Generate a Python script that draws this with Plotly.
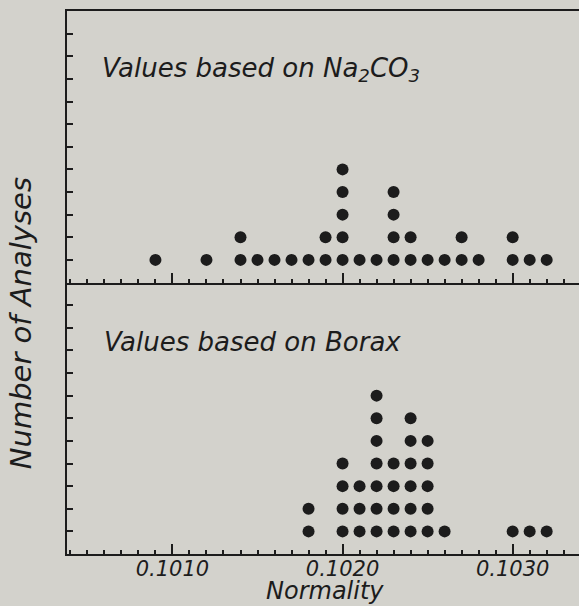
import plotly.graph_objects as go
from plotly.subplots import make_subplots

# ---- data ----
na2co3_normality = [0.1009, 0.1012, 0.1014, 0.1015, 0.1016, 0.1017, 0.1018, 0.1019,
                    0.1020, 0.1021, 0.1022, 0.1023, 0.1024, 0.1025, 0.1026, 0.1027,
                    0.1028, 0.1030, 0.1031, 0.1032]
na2co3_counts = [1, 1, 2, 1, 1, 1, 1, 2, 5, 1, 1, 4, 2, 1, 1, 2, 1, 2, 1, 1]

borax_normality = [0.1018, 0.1020, 0.1021, 0.1022, 0.1023, 0.1024, 0.1025, 0.1026,
                   0.1030, 0.1031, 0.1032]
borax_counts = [2, 4, 3, 7, 4, 6, 5, 1, 1, 1, 1]

xtick_vals = [0.1010, 0.1020, 0.1030]
xtick_text = ["0.1010", "0.1020", "0.1030"]

panel_titles = ["Values based on Na<sub>2</sub>CO<sub>3</sub>", "Values based on Borax"]
x_title = "Normality"
y_title = "Number of Analyses"

# ---- style ----
BG = "#d3d2cc"
INK = "#1c1c1c"
FONT = "DejaVu Sans"


def stack(xs, counts):
    px, py = [], []
    for x, c in zip(xs, counts):
        for k in range(1, c + 1):
            px.append(x)
            py.append(k)
    return px, py


fig = make_subplots(rows=2, cols=1, shared_xaxes=True, vertical_spacing=0)

for row, (xs, cs) in enumerate([(na2co3_normality, na2co3_counts),
                                 (borax_normality, borax_counts)], start=1):
    px, py = stack(xs, cs)
    fig.add_trace(go.Scatter(x=px, y=py, mode="markers",
                             marker=dict(size=12, color=INK, line=dict(width=0)),
                             showlegend=False, hoverinfo="skip"), row=row, col=1)

xcommon = dict(range=[0.10038, 0.10339], showgrid=False, zeroline=False,
               showline=True, linecolor=INK, linewidth=2,
               ticks="inside", ticklen=10, tickwidth=1.5, tickcolor=INK,
               tickvals=xtick_vals, ticktext=["<i>%s</i>" % t for t in xtick_text],
               ticklabelstandoff=-5,
               minor=dict(ticks="inside", ticklen=4, tickwidth=1.5, tickcolor=INK,
                          dtick=0.0001, tick0=0.1000, showgrid=False),
               tickfont=dict(family=FONT, size=21, color=INK))
fig.update_xaxes(**xcommon)
fig.update_xaxes(showticklabels=False, mirror=True, row=1, col=1)
fig.update_xaxes(showticklabels=True, row=2, col=1)

fig.update_yaxes(range=[0, 12], showgrid=False, zeroline=False,
                 showline=True, linecolor=INK, linewidth=2,
                 ticks="inside", ticklen=6, tickwidth=1.5, tickcolor=INK,
                 tickvals=list(range(1, 12)), showticklabels=False)

annos = [
    dict(text="<i>%s</i>" % panel_titles[0], x=0.064, y=0.893, xanchor="left", yanchor="middle"),
    dict(text="<i>%s</i>" % panel_titles[1], x=0.068, y=0.391, xanchor="left", yanchor="middle"),
]
for a in annos:
    fig.add_annotation(xref="paper", yref="paper", showarrow=False,
                       font=dict(family=FONT, size=26, color=INK), **a)

fig.add_annotation(text="<i>%s</i>" % x_title, xref="paper", yref="paper", x=0.504, y=-0.068,
                   xanchor="center", yanchor="middle", showarrow=False,
                   font=dict(family=FONT, size=24, color=INK))
fig.add_annotation(text="<i>%s</i>" % y_title, xref="paper", yref="paper", x=-0.09, y=0.425,
                   xanchor="center", yanchor="middle", showarrow=False, textangle=-90,
                   font=dict(family=FONT, size=29, color=INK))

fig.update_layout(width=579, height=606,
                  margin=dict(l=67, r=0, t=11, b=52),
                  paper_bgcolor=BG, plot_bgcolor=BG)

fig.write_html("out.html", config={"displayModeBar": False},
               post_script="document.body.style.margin='0';"
                           "document.body.style.overflow='hidden';"
                           "document.body.style.background='%s';" % BG)
